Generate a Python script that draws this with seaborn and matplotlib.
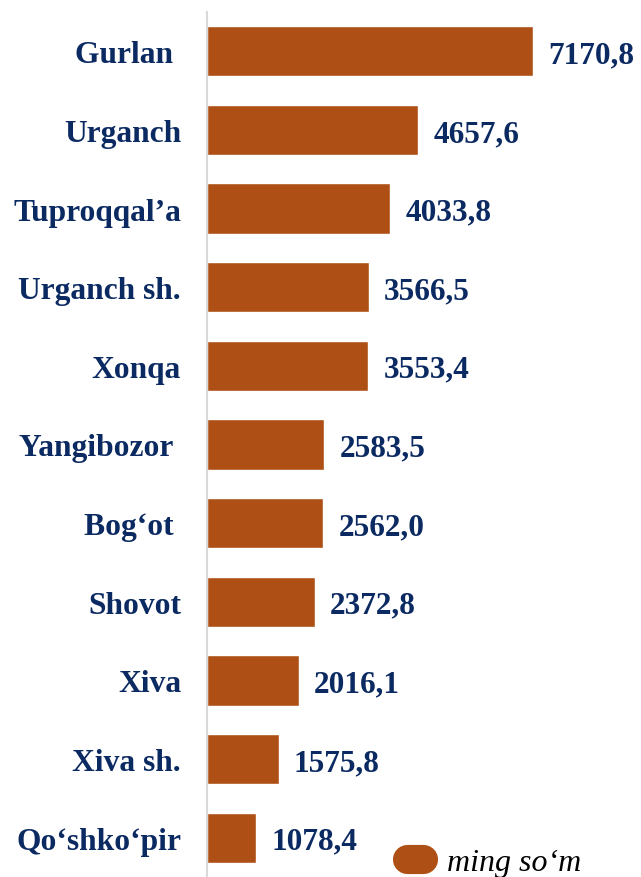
import matplotlib
matplotlib.use("Agg")
import matplotlib.pyplot as plt
import seaborn as sns
from matplotlib.lines import Line2D

# districts and values (ming so'm)
districts = ["Gurlan ", "Urganch", "Tuproqqal\u2019a", "Urganch sh.", "Xonqa",
             "Yangibozor ", "Bog\u2018ot ", "Shovot", "Xiva", "Xiva sh.",
             "Qo\u2018shko\u2018pir"]
values = [7170.8, 4657.6, 4033.8, 3566.5, 3553.4, 2583.5, 2562.0, 2372.8,
          2016.1, 1575.8, 1078.4]
legend_label = "ming so\u2018m"

bar_color = "#AE5016"
text_color = "#0B2A62"

sns.set_theme(style="white")
plt.rcParams['font.family'] = ['Liberation Serif', 'DejaVu Serif']

fig = plt.figure(figsize=(6.41, 8.78), dpi=100)
ax = fig.add_axes([207 / 641, 0.0, 1 - 207 / 641, 1 - 13 / 878])

sns.barplot(x=values, y=districts, color=bar_color, saturation=1,
            width=0.64, orient="h", ax=ax)

# value labels with comma decimal separator
labels = [f"{v:.1f}".replace(".", ",") for v in values]
texts = ax.bar_label(ax.containers[0], labels=labels, padding=11,
                     fontsize=22.5, fontweight="bold", color=text_color)
for t in texts:
    t.set_va("center_baseline")

ax.set_xlim(0, 9560)
ax.set_ylim(10.5, -0.5)
ax.set_xticks([])
ax.set_xlabel("")
ax.set_ylabel("")
ax.tick_params(axis="y", length=0, pad=18.7)
for lbl in ax.get_yticklabels():
    lbl.set_fontsize(22.7)
    lbl.set_fontweight("bold")
    lbl.set_color(text_color)

for side in ["top", "right", "bottom"]:
    ax.spines[side].set_visible(False)
ax.spines["left"].set_color("#D9D9D9")
ax.spines["left"].set_linewidth(1.5)

# legend with rounded swatch
handle = Line2D([0], [0], color=bar_color, lw=21, solid_capstyle="round")
leg = fig.legend([handle], [legend_label], loc="center left",
                 bbox_to_anchor=(407 / 641, 1 - 863 / 878),
                 frameon=False, handlelength=0.5, handletextpad=0.75,
                 borderpad=0, borderaxespad=0,
                 prop={"family": "Liberation Serif", "style": "italic", "size": 23})
for t in leg.get_texts():
    t.set_color("black")

fig.savefig("out.png", dpi=100)
